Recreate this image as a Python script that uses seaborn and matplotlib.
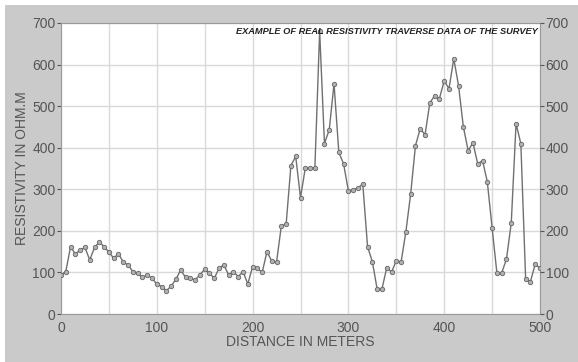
import numpy as np
import pandas as pd
import matplotlib
matplotlib.use("Agg")
import matplotlib.pyplot as plt
import seaborn as sns
from matplotlib.patches import Rectangle

# ---- data ----
distance = list(range(0, 505, 5))
resistivity = [
    94, 102, 162, 144, 154, 160, 130, 160, 173, 162,
    149, 134, 145, 125, 118, 102, 98, 88, 94, 86,
    72, 66, 56, 67, 84, 106, 88, 86, 82, 94,
    108, 98, 86, 110, 118, 94, 102, 90, 102, 72,
    114, 110, 100, 150, 127, 125, 212, 216, 357, 379,
    280, 351, 351, 351, 680, 410, 443, 554, 389, 361,
    296, 299, 303, 313, 162, 126, 60, 60, 111, 101,
    128, 125, 198, 289, 405, 446, 431, 508, 525, 518,
    561, 542, 614, 549, 450, 393, 412, 361, 369, 318,
    207, 99, 99, 132, 219, 458, 410, 84, 78, 120,
    110,
]
x_ticks = [0, 100, 200, 300, 400, 500]
y_ticks = [0, 100, 200, 300, 400, 500, 600, 700]
title = "EXAMPLE OF REAL RESISTIVITY TRAVERSE DATA OF THE SURVEY"
x_label = "DISTANCE IN METERS"
y_label = "RESISTIVITY IN OHM.M"

df = pd.DataFrame({"distance": distance, "resistivity": resistivity})

sns.set_theme(style="white")
plt.rcParams["font.family"] = ["Liberation Sans", "DejaVu Sans"]

BG = "#cacaca"
TXT = "#555555"

fig = plt.figure(figsize=(5.78, 3.62), dpi=100, facecolor="white")
fig.patches.append(Rectangle((5 / 578, 0), 1, 1 - 5 / 362, transform=fig.transFigure,
                             facecolor=BG, edgecolor="none", zorder=-10))
ax = fig.add_axes([61 / 578, 1 - 314 / 362, (540 - 61) / 578, (314 - 23) / 362])
ax.set_facecolor("white")

sns.lineplot(data=df, x="distance", y="resistivity", ax=ax, color="#707070",
             linewidth=1.0, marker="o", markersize=3.2, markerfacecolor="#b0b0b0",
             markeredgecolor="#666666", markeredgewidth=0.6, zorder=3)

ax.set_xlim(0, 500)
ax.set_ylim(0, 700)
ax.set_xticks(x_ticks)
ax.set_xticks(list(range(50, 500, 100)), minor=True)
ax.set_yticks(y_ticks)
ax.grid(True, which="both", axis="x", color="#d9d9d9", linewidth=1.0, zorder=0)
ax.grid(True, which="major", axis="y", color="#d9d9d9", linewidth=1.0, zorder=0)
ax.tick_params(axis="y", which="major", labelsize=10, colors=TXT, length=3,
               width=0.8, direction="out", pad=1)
ax.tick_params(axis="x", which="major", labelsize=10, colors=TXT, length=2,
               width=0.8, direction="out", pad=3)
ax.tick_params(axis="x", which="minor", length=0)
ax.set_xlabel(x_label, fontsize=10, color=TXT, labelpad=0)
ax.set_ylabel(y_label, fontsize=10, color=TXT, labelpad=2)
for s in ax.spines.values():
    s.set_color("#9a9a9a")
    s.set_linewidth(0.8)

ax2 = ax.twinx()
ax2.set_ylim(0, 700)
ax2.set_yticks(y_ticks)
ax2.tick_params(axis="y", labelsize=10, colors=TXT, length=3, width=0.8, pad=1)
for s in ax2.spines.values():
    s.set_visible(False)

ax.text(0.995, 0.985, title, transform=ax.transAxes, ha="right", va="top",
        fontsize=6.7, fontweight="bold", fontstyle="italic", color="#222222", zorder=5)

fig.savefig("out.png", dpi=100, facecolor=fig.get_facecolor())
